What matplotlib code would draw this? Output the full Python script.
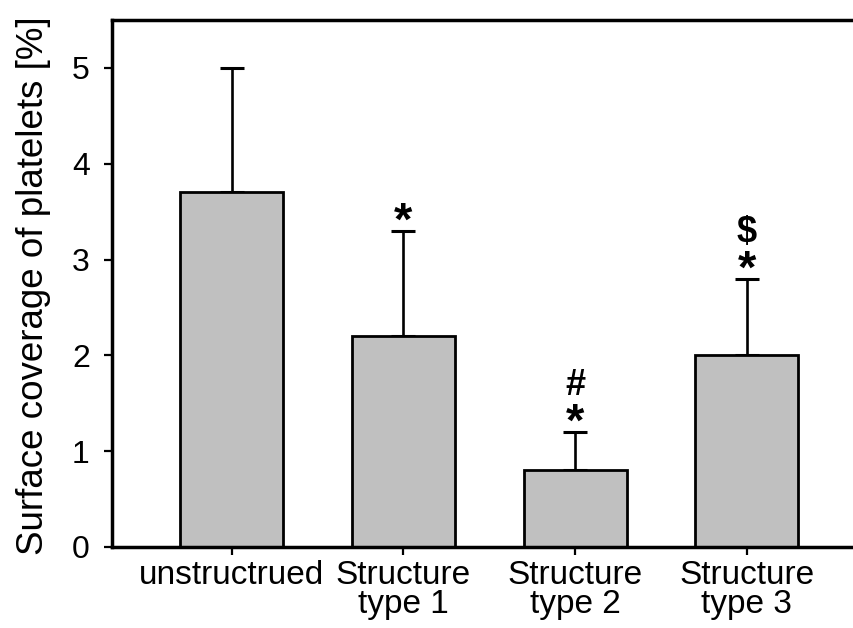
import matplotlib
matplotlib.use("Agg")
import matplotlib.pyplot as plt

plt.rcParams['font.family'] = ['Liberation Sans', 'DejaVu Sans']

categories = ["unstructrued", "Structure\ntype 1", "Structure\ntype 2", "Structure\ntype 3"]
means = [3.7, 2.2, 0.8, 2.0]
upper_err = [1.3, 1.1, 0.4, 0.8]
star_marks = ["", "*", "*", "*"]
extra_marks = ["", "", "#", "$"]
yticks = [0, 1, 2, 3, 4, 5]

fig = plt.figure(figsize=(8.54, 6.28), dpi=100)
ax = fig.add_axes([112 / 854, 1 - 547 / 628, 1 - 112 / 854 + 0.003, (547 - 20) / 628])

x = list(range(len(categories)))
ax.bar(x, means, width=0.60, color="#c0c0c0", edgecolor="black", linewidth=2.0, zorder=2)
ax.errorbar(x, means, yerr=[[0] * len(means), upper_err], fmt="none", ecolor="black",
            elinewidth=1.9, capsize=8.5, capthick=2.2, zorder=1)

# significance symbols stacked above each error bar
for xi, m, e, s1, s2 in zip(x, means, upper_err, star_marks, extra_marks):
    top = m + e
    if s1:
        ax.annotate(s1, xy=(xi, top), xytext=(0, -4), textcoords="offset pixels",
                    ha="center", va="baseline", fontsize=34, fontweight="bold")
    if s2:
        ax.annotate(s2, xy=(xi, top), xytext=(0, 37), textcoords="offset pixels",
                    ha="center", va="baseline", fontsize=26, fontweight="bold")

ax.set_xlim(-0.698, 3.64)
ax.set_ylim(0, 5.5)
ax.set_yticks(yticks)
ax.set_xticks(x)
ax.set_xticklabels(categories, linespacing=0.95)
ax.tick_params(axis="both", direction="out", length=6, width=1.6)
ax.tick_params(axis="y", labelsize=23, pad=10)
ax.tick_params(axis="x", labelsize=24, pad=3)
ax.set_ylabel("Surface coverage of platelets [%]", fontsize=26.5)
ax.yaxis.set_label_coords(-0.082, 0.495)

for side in ["left", "bottom", "top"]:
    ax.spines[side].set_linewidth(2.5)
ax.spines["right"].set_visible(False)

fig.savefig("out.png", dpi=100)
